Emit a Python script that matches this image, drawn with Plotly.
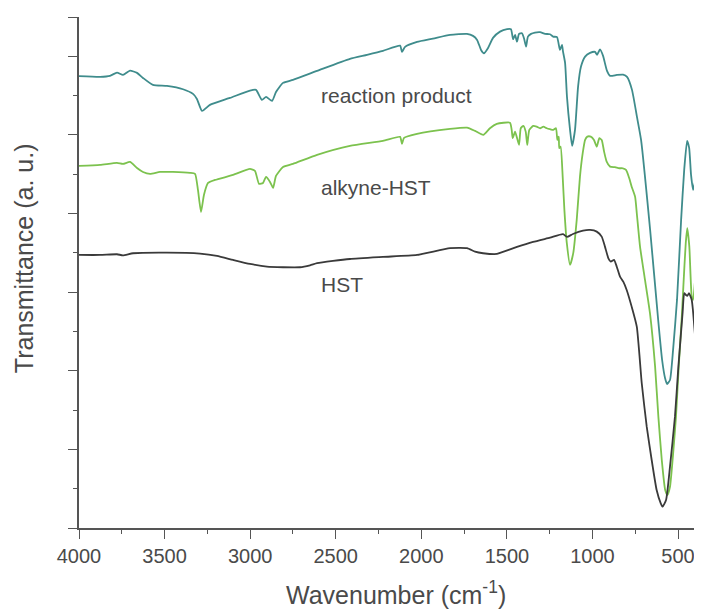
import plotly.graph_objects as go

# ---- data ----
rp_wn = [4000, 3877, 3819, 3778, 3743, 3702, 3661, 3626, 3568, 3486, 3392, 3334, 3311, 3281, 3235,
         3118, 3001, 2966, 2931, 2907, 2872, 2849, 2808, 2750, 2609, 2417, 2317, 2224, 2124, 2113,
         2095, 2025, 1932, 1832, 1733, 1698, 1674, 1651, 1634, 1610, 1581, 1540, 1499, 1476, 1464,
         1452, 1441, 1429, 1412, 1400, 1388, 1377, 1359, 1336, 1306, 1277, 1248, 1230, 1207, 1190,
         1178, 1172, 1160, 1149, 1131, 1119, 1102, 1084, 1067, 1043, 1014, 985, 973, 956, 938,
         915, 897, 857, 821, 798, 769, 740, 716, 663, 616, 593, 576, 564, 547, 529,
         506, 482, 464, 447, 435, 424, 412, 401]
rp_t = [5.747, 5.738, 5.751, 5.793, 5.763, 5.818, 5.789, 5.725, 5.636, 5.623, 5.581, 5.522, 5.458, 5.305, 5.382,
        5.471, 5.564, 5.573, 5.445, 5.483, 5.433, 5.547, 5.662, 5.700, 5.814, 5.967, 6.018, 6.069, 6.136, 6.056,
        6.120, 6.183, 6.225, 6.272, 6.285, 6.260, 6.209, 6.081, 6.039, 6.107, 6.234, 6.314, 6.345, 6.345, 6.218,
        6.272, 6.187, 6.285, 6.294, 6.230, 6.123, 6.251, 6.285, 6.302, 6.307, 6.285, 6.281, 6.251, 6.243, 6.081,
        6.145, 6.060, 5.916, 5.487, 5.064, 4.860, 5.064, 5.615, 5.869, 5.996, 6.043, 6.056, 6.018, 6.088, 6.005,
        5.814, 5.751, 5.763, 5.767, 5.738, 5.573, 5.229, 4.936, 3.791, 2.646, 2.137, 1.908, 1.832, 1.883, 2.265,
        2.901, 3.919, 4.555, 4.924, 4.835, 4.491, 4.300, 4.402]

ak_wn = [4000, 3877, 3778, 3743, 3702, 3661, 3626, 3585, 3527, 3451, 3351, 3322, 3305, 3287, 3270,
         3246, 3205, 3100, 3001, 2972, 2948, 2925, 2907, 2884, 2866, 2849, 2808, 2750, 2609, 2417,
         2224, 2124, 2113, 2101, 2025, 1832, 1733, 1686, 1638, 1599, 1559, 1482, 1472, 1466, 1452,
         1429, 1419, 1404, 1390, 1381, 1369, 1346, 1326, 1306, 1287, 1267, 1248, 1229, 1213, 1205,
         1197, 1194, 1186, 1174, 1164, 1150, 1131, 1112, 1092, 1073, 1057, 1043, 1030, 1010, 991,
         975, 960, 946, 932, 917, 897, 868, 843, 823, 804, 785, 771, 751, 741, 722,
         693, 664, 634, 615, 595, 575, 562, 547, 527, 512, 496, 478, 469, 455, 446,
         434, 420, 412, 399]
ak_t = [4.606, 4.618, 4.644, 4.631, 4.656, 4.580, 4.529, 4.504, 4.529, 4.529, 4.517, 4.504, 4.300, 4.020, 4.237,
        4.389, 4.427, 4.491, 4.567, 4.542, 4.377, 4.389, 4.466, 4.402, 4.326, 4.478, 4.593, 4.631, 4.746, 4.860,
        4.924, 4.975, 4.885, 4.962, 5.013, 5.076, 5.093, 5.051, 5.000, 5.085, 5.140, 5.156, 5.064, 4.958, 5.042,
        4.873, 5.085, 5.115, 5.042, 4.873, 5.064, 5.115, 5.106, 5.085, 5.106, 5.085, 5.073, 5.064, 5.085, 4.936,
        4.978, 4.831, 4.851, 4.469, 4.046, 3.626, 3.346, 3.499, 3.919, 4.469, 4.767, 4.936, 4.978, 4.978, 4.936,
        4.851, 4.958, 4.936, 4.787, 4.660, 4.597, 4.589, 4.576, 4.576, 4.555, 4.449, 4.342, 4.215, 4.004, 3.579,
        3.155, 2.732, 2.052, 1.416, 0.865, 0.483, 0.420, 0.525, 0.992, 1.416, 2.052, 2.688, 3.070, 3.622, 3.813,
        3.579, 2.943, 2.901, 3.197]

hst_wn = [4000, 3877, 3778, 3743, 3684, 3486, 3293, 3194, 3100, 3001, 2902, 2808, 2709, 2650, 2609,
          2516, 2417, 2224, 2025, 1832, 1733, 1686, 1639, 1558, 1540, 1441, 1347, 1248, 1172, 1149,
          1114, 1055, 1014, 975, 946, 927, 907, 893, 874, 858, 839, 820, 800, 771, 741,
          712, 683, 654, 625, 601, 590, 570, 547, 518, 498, 484, 473, 464, 454, 446,
          436, 420, 412, 401]
hst_t = [3.473, 3.473, 3.482, 3.469, 3.495, 3.503, 3.490, 3.461, 3.410, 3.359, 3.324, 3.317, 3.317, 3.342, 3.368,
         3.397, 3.422, 3.448, 3.473, 3.559, 3.559, 3.515, 3.495, 3.486, 3.499, 3.575, 3.639, 3.693, 3.737, 3.702,
         3.740, 3.782, 3.791, 3.770, 3.706, 3.579, 3.431, 3.388, 3.410, 3.324, 3.197, 3.134, 3.028, 2.816, 2.561,
         1.841, 1.289, 0.865, 0.483, 0.314, 0.271, 0.356, 0.780, 1.416, 2.052, 2.443, 2.748, 2.986, 2.964, 2.952,
         2.986, 2.901, 2.748, 2.455]

labels = ["reaction product", "alkyne-HST", "HST"]
label_wn = [2600, 2600, 2600]
label_t = [5.50, 4.33, 3.10]

x_ticks = [4000, 3500, 3000, 2500, 2000, 1500, 1000, 500]
y_major = [0, 1, 2, 3, 4, 5, 6, 6.5]

# ---- styling ----
FONT = "Liberation Sans, Arial, Helvetica, sans-serif"
TXT = "#4a4a4a"
AX = "#555555"
colors = ["#3f8c8c", "#7cc24e", "#3a3a3a"]

fig = go.Figure()
for wn, t, c, name in [(rp_wn, rp_t, colors[0], labels[0]),
                       (ak_wn, ak_t, colors[1], labels[1]),
                       (hst_wn, hst_t, colors[2], labels[2])]:
    fig.add_trace(go.Scatter(x=wn, y=t, mode="lines", name=name,
                             line=dict(color=c, width=1.8, shape="spline", smoothing=0.5),
                             showlegend=False, hoverinfo="skip"))

for txt, xv, yv in zip(labels, label_wn, label_t):
    fig.add_annotation(x=xv, y=yv, xref="x", yref="y", text=txt, showarrow=False,
                       xanchor="left", yanchor="middle",
                       font=dict(family=FONT, size=21, color=TXT))

fig.add_annotation(x=0.5088, y=-0.127, xref="paper", yref="paper",
                   text="Wavenumber (cm<sup>-1</sup>)", showarrow=False,
                   xanchor="center", yanchor="middle",
                   font=dict(family=FONT, size=25, color=TXT))
fig.add_annotation(x=-0.0883, y=0.528, xref="paper", yref="paper",
                   text="Transmittance (a. u.)", showarrow=False, textangle=-90,
                   xanchor="center", yanchor="middle",
                   font=dict(family=FONT, size=25, color=TXT))

# page body has an 8px default margin, so the figure is 8px smaller than the window
fig.update_layout(
    width=694, height=602,
    margin=dict(l=71, r=0, t=9, b=82),
    paper_bgcolor="white", plot_bgcolor="white",
    font=dict(family=FONT, color=TXT),
)
fig.update_xaxes(range=[4000, 360], autorange=False,
                 tickmode="array", tickvals=x_ticks,
                 ticks="outside", ticklen=9, tickwidth=1.3, tickcolor=AX,
                 minor=dict(dtick=250, ticks="outside", ticklen=4, tickwidth=1.3, tickcolor=AX),
                 showline=True, linecolor=AX, linewidth=1.5, showgrid=False, zeroline=False,
                 tickfont=dict(family=FONT, size=20, color=TXT))
fig.update_yaxes(range=[0, 6.5], autorange=False,
                 tickmode="array", tickvals=y_major, showticklabels=False,
                 ticks="outside", ticklen=9, tickwidth=1.3, tickcolor=AX,
                 minor=dict(dtick=0.5, ticks="outside", ticklen=4, tickwidth=1.3, tickcolor=AX),
                 showline=True, linecolor=AX, linewidth=1.5, showgrid=False, zeroline=False)

fig.write_html("out.html")
